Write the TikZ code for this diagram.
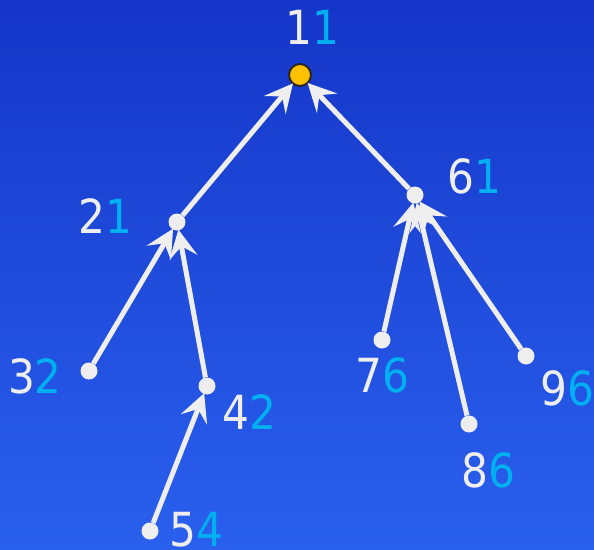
\documentclass[tikz,border=0pt]{standalone}
\usepackage{fontspec}
\setmainfont{DejaVu Sans Condensed}
\usetikzlibrary{arrows.meta}
\definecolor{bgtop}{HTML}{1536C8}
\definecolor{bgbot}{HTML}{2A60EE}
\definecolor{fg}{HTML}{EEEEEE}
\definecolor{cy}{HTML}{00B0F0}
\definecolor{gold}{HTML}{FFC000}
\tikzset{
  dot/.style={circle, fill=fg, inner sep=0pt, minimum size=17pt},
  rootdot/.style={circle, fill=gold, draw=black!85, line width=2pt, inner sep=0pt, minimum size=22pt},
  lbl/.style={inner sep=0pt, font=\fontsize{47}{47}\selectfont, text=fg},
  edge/.style={draw=fg, line width=5pt, shorten >=-1pt, -{Stealth[length=28pt, width=28pt, inset=11pt]}},
}
\newcommand{\lab}[2]{#1\textcolor{cy}{#2}}
\begin{document}
\begin{tikzpicture}[x=1pt, y=-1pt]
\shade[top color=bgtop, bottom color=bgbot] (0,0) rectangle (594,549);
\useasboundingbox (0,0) rectangle (594,549);
% nodes
\node[rootdot] (n1) at (300,75) {};
\node[dot] (n2) at (177,222) {};
\node[dot] (n3) at (89,371) {};
\node[dot] (n4) at (207,386) {};
\node[dot] (n5) at (150,531) {};
\node[dot] (n6) at (415,195) {};
\node[dot] (n7) at (382,340) {};
\node[dot] (n8) at (469,424) {};
\node[dot] (n9) at (526,356) {};
% edges
\draw[edge] (n2) -- (n1);
\draw[edge] (n6) -- (n1);
\draw[edge] (n3) -- (n2);
\draw[edge] (n4) -- (n2);
\draw[edge] (n5) -- (n4);
\draw[edge] (n7) -- (n6);
\draw[edge] (n8) -- (n6);
\draw[edge] (n9) -- (n6);
% labels
\node[lbl] (l1) at (312,27) {\lab{1}{1}};
\node[lbl] (l2) at (105,216) {\lab{2}{1}};
\node[lbl] (l3) at (35,376) {\lab{3}{2}};
\node[lbl] (l4) at (249,412) {\lab{4}{2}};
\node[lbl] (l5) at (196,530) {\lab{5}{4}};
\node[lbl] (l6) at (474,176) {\lab{6}{1}};
\node[lbl] (l7) at (382,375) {\lab{7}{6}};
\node[lbl] (l8) at (488,470) {\lab{8}{6}};
\node[lbl] (l9) at (567,388) {\lab{9}{6}};
\end{tikzpicture}
\end{document}
